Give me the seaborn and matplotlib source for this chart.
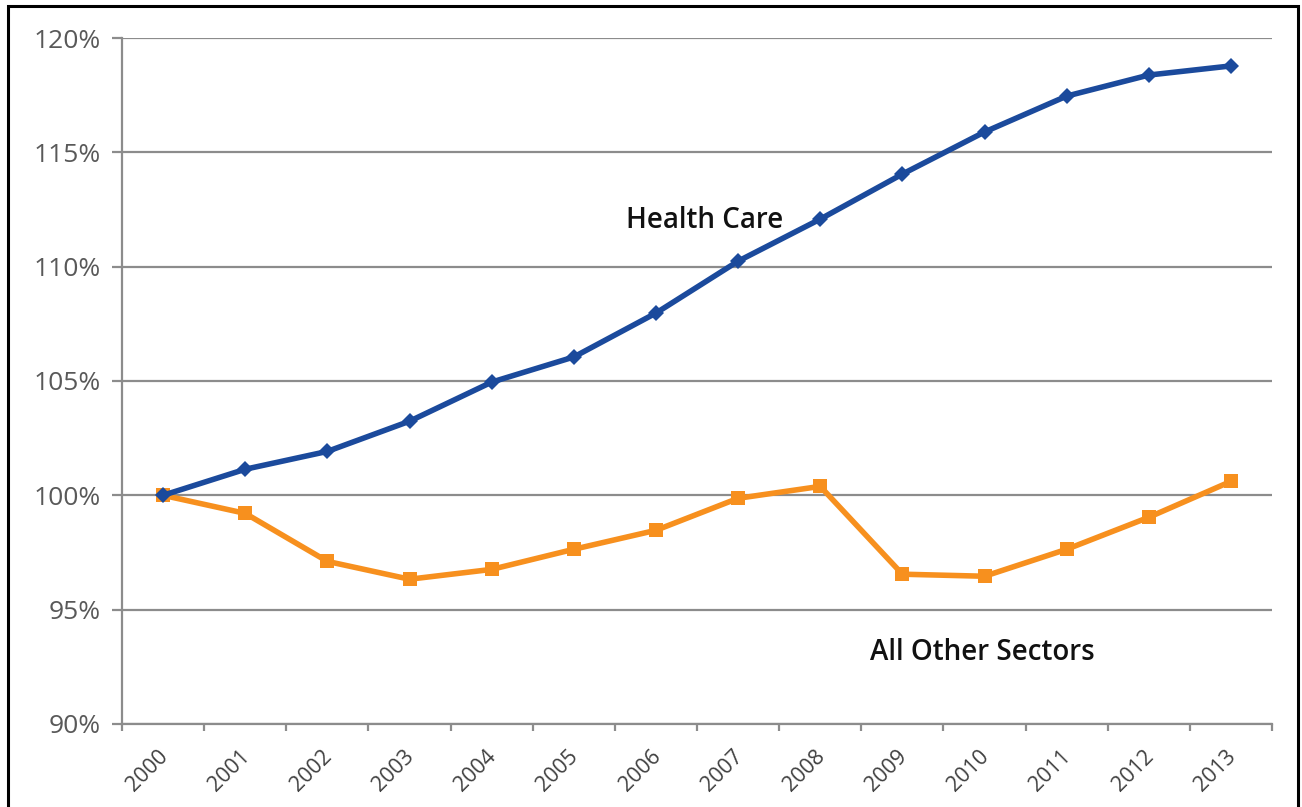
import numpy as np
import pandas as pd
import matplotlib.pyplot as plt
import matplotlib.patches as mpatches
import matplotlib.transforms as mtransforms
from matplotlib.ticker import FixedLocator, FuncFormatter
import seaborn as sns

years = [str(y) for y in range(2000, 2014)]
health_care = [100.0, 101.14, 101.92, 103.24, 104.95, 106.05, 107.97,
               110.24, 112.08, 114.05, 115.89, 117.46, 118.38, 118.78]
other_sectors = [100.0, 99.21, 97.11, 96.33, 96.76, 97.64, 98.47,
                 99.87, 100.39, 96.55, 96.46, 97.64, 99.04, 100.61]

sns.set_style("white")
plt.rcParams["font.family"] = ["Open Sans", "DejaVu Sans"]

df = pd.DataFrame({"pos": np.arange(len(years)),
                   "health": health_care,
                   "other": other_sectors})

fig = plt.figure(figsize=(13.02, 8.07), dpi=100)
ax = fig.add_axes([0.0937, 0.1029, 0.977 - 0.0937, 0.9529 - 0.1029])

sns.lineplot(data=df, x="pos", y="other", ax=ax, color="#F7901E",
             linewidth=4, marker="s", markersize=10.5, markeredgewidth=0,
             zorder=3)
sns.lineplot(data=df, x="pos", y="health", ax=ax, color="#1B4A9C",
             linewidth=4, marker="D", markersize=8, markeredgewidth=0,
             zorder=4)

ax.set_xlim(-0.5, len(years) - 0.5)
ax.set_ylim(90, 120)
ax.set_yticks(np.arange(90, 121, 5))
ax.yaxis.set_major_formatter(FuncFormatter(lambda v, p: f"{v:.0f}%"))
ax.yaxis.grid(True, color="#8C8C8C", linewidth=1.6)
ax.set_axisbelow(True)

ax.set_xticks(np.arange(len(years)))
ax.set_xticklabels(years, rotation=45, ha="right", rotation_mode="anchor")
ax.xaxis.set_minor_locator(FixedLocator(np.arange(-0.5, len(years), 1)))
ax.tick_params(axis="x", which="major", length=0, pad=16,
               labelsize=15.5, labelcolor="#404040")
ax.tick_params(axis="x", which="minor", length=5, width=1.6,
               color="#8C8C8C", direction="out", bottom=True)
ax.tick_params(axis="y", length=7, width=1.6, color="#8C8C8C",
               labelsize=19, labelcolor="#595959", pad=8, left=True)

# nudge rotated year labels a little to the left
shift = mtransforms.ScaledTranslation(-6 / 100, 0, fig.dpi_scale_trans)
for lbl in ax.get_xticklabels():
    lbl.set_transform(lbl.get_transform() + shift)

for s in ["top", "right"]:
    ax.spines[s].set_visible(False)
for s in ["left", "bottom"]:
    ax.spines[s].set_color("#8C8C8C")
    ax.spines[s].set_linewidth(1.6)

ax.set_xlabel("")
ax.set_ylabel("")

ax.text(5.64, 111.69, "Health Care", fontsize=20, fontweight="semibold",
        color="#111111", va="baseline")
ax.text(8.61, 92.8, "All Other Sectors", fontsize=20, fontweight="semibold",
        color="#111111", va="baseline")

fig.patches.append(mpatches.Rectangle((0.0065, -0.05), 0.9905, 1.0426,
                                      transform=fig.transFigure, fill=False,
                                      edgecolor="black", linewidth=2.2))

fig.savefig("out.png", dpi=100)
